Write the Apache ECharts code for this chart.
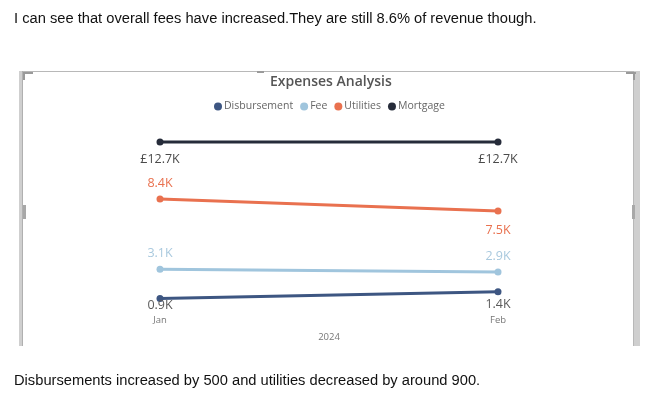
<!DOCTYPE html>
<html>
<head>
<meta charset="utf-8">
<script src="https://cdn.jsdelivr.net/npm/echarts@6/dist/echarts.min.js"></script>
<style>
html,body{margin:0;padding:0;background:#fff;}
#c{width:666px;height:395px;}
</style>
</head>
<body>
<div id="c"></div>
<script>
var categories = ['Jan', 'Feb'];
var yearLabel = '2024';
var disbursement = [900, 1400];
var fee = [3100, 2900];
var utilities = [8400, 7500];
var mortgage = [12700, 12700];
var seriesNames = ['Disbursement', 'Fee', 'Utilities', 'Mortgage'];
var introText = 'I can see that overall fees have increased.They are still 8.6% of revenue though.';
var outroText = 'Disbursements increased by 500 and utilities decreased by around 900.';
var chartTitle = 'Expenses Analysis';

var colors = {
  Disbursement: '#3d5682',
  Fee: '#a0c5dd',
  Utilities: '#e9714f',
  Mortgage: '#262c3a'
};
var labelColors = {
  Disbursement: '#5a5a5a',
  Fee: '#a9c9de',
  Utilities: '#e9714f',
  Mortgage: '#4a4a4a'
};
var font = '"Open Sans", "Noto Sans", sans-serif';

function fmtK(v) { return (v / 1000).toFixed(1) + 'K'; }

function mkSeries(name, values, labelPlacer, prefix) {
  return {
    name: name,
    type: 'line',
    data: values.map(function (v, i) {
      var p = labelPlacer(i);
      return {
        value: v,
        label: { position: p.pos, distance: p.dist }
      };
    }),
    symbol: 'circle',
    symbolSize: 7,
    lineStyle: { width: 3, color: colors[name] },
    itemStyle: { color: colors[name] },
    label: {
      show: true,
      fontFamily: font,
      fontSize: 12.5,
      color: labelColors[name],
      formatter: function (p) { return (prefix || '') + fmtK(p.value); }
    },
    emphasis: { disabled: true },
    z: 2
  };
}

var chart = echarts.init(document.getElementById('c'));
chart.setOption({
  animation: false,
  color: seriesNames.map(function (n) { return colors[n]; }),
  title: {
    text: chartTitle,
    left: 270,
    top: 75,
    padding: 0,
    textStyle: { fontFamily: font, fontSize: 14, fontWeight: 600, color: '#555' }
  },
  legend: {
    data: seriesNames,
    left: 209,
    top: 96,
    icon: 'circle',
    itemWidth: 8,
    itemHeight: 8,
    itemGap: 7,
    textStyle: { fontFamily: font, fontSize: 10.5, color: '#666', padding: [0, 0, 0, -3] }
  },
  grid: { left: 160, right: 168, top: 124.8, bottom: 84.6, containLabel: false },
  xAxis: {
    type: 'category',
    data: categories,
    boundaryGap: false,
    axisLine: { show: false },
    axisTick: { show: false },
    axisLabel: { fontFamily: font, fontSize: 9.5, color: '#777', margin: 5 },
    name: yearLabel,
    nameLocation: 'middle',
    nameGap: 22,
    nameTextStyle: { fontFamily: font, fontSize: 9.5, color: '#777' }
  },
  yAxis: {
    type: 'value',
    min: 0,
    max: 14000,
    show: false,
    splitLine: { show: false }
  },
  series: [
    mkSeries('Disbursement', disbursement, function (i) { return { pos: 'bottom', dist: i === 0 ? -3 : 3 }; }),
    mkSeries('Fee', fee, function (i) { return { pos: 'top', dist: 6 }; }),
    mkSeries('Utilities', utilities, function (i) { return i === 0 ? { pos: 'top', dist: 6 } : { pos: 'bottom', dist: 9 }; }),
    mkSeries('Mortgage', mortgage, function (i) { return { pos: 'bottom', dist: 7 }; }, '£')
  ],
  graphic: [
    { type: 'text', left: 14, top: 11, style: { text: introText, font: '14.7px "Liberation Sans", Arial, sans-serif', fill: '#111' } },
    { type: 'text', left: 14, top: 373, style: { text: outroText, font: '14.7px "Liberation Sans", Arial, sans-serif', fill: '#111' } },
    { type: 'rect', shape: { x: 23, y: 71, width: 611, height: 1 }, style: { fill: '#b8b8b8' } },
    { type: 'rect', shape: { x: 19, y: 71, width: 4, height: 275 }, style: { fill: '#cfcfcf' } },
    { type: 'rect', shape: { x: 22, y: 71, width: 1, height: 275 }, style: { fill: '#b0b0b0' } },
    { type: 'rect', shape: { x: 633, y: 71, width: 7, height: 275 }, style: { fill: '#cfcfcf' } },
    { type: 'rect', shape: { x: 633, y: 71, width: 1, height: 275 }, style: { fill: '#b8b8b8' } },
    { type: 'rect', shape: { x: 23, y: 72, width: 10, height: 2 }, style: { fill: '#9a9a9a' } },
    { type: 'rect', shape: { x: 23, y: 72, width: 2, height: 8 }, style: { fill: '#9a9a9a' } },
    { type: 'rect', shape: { x: 626, y: 72, width: 10, height: 2 }, style: { fill: '#9a9a9a' } },
    { type: 'rect', shape: { x: 633, y: 72, width: 2, height: 8 }, style: { fill: '#9a9a9a' } },
    { type: 'rect', shape: { x: 257, y: 71, width: 7, height: 2 }, style: { fill: '#9a9a9a' } },
    { type: 'rect', shape: { x: 23, y: 205, width: 3, height: 14 }, style: { fill: '#a8a8a8' } },
    { type: 'rect', shape: { x: 632, y: 205, width: 3, height: 14 }, style: { fill: '#a8a8a8' } }
  ]
});
</script>
</body>
</html>
